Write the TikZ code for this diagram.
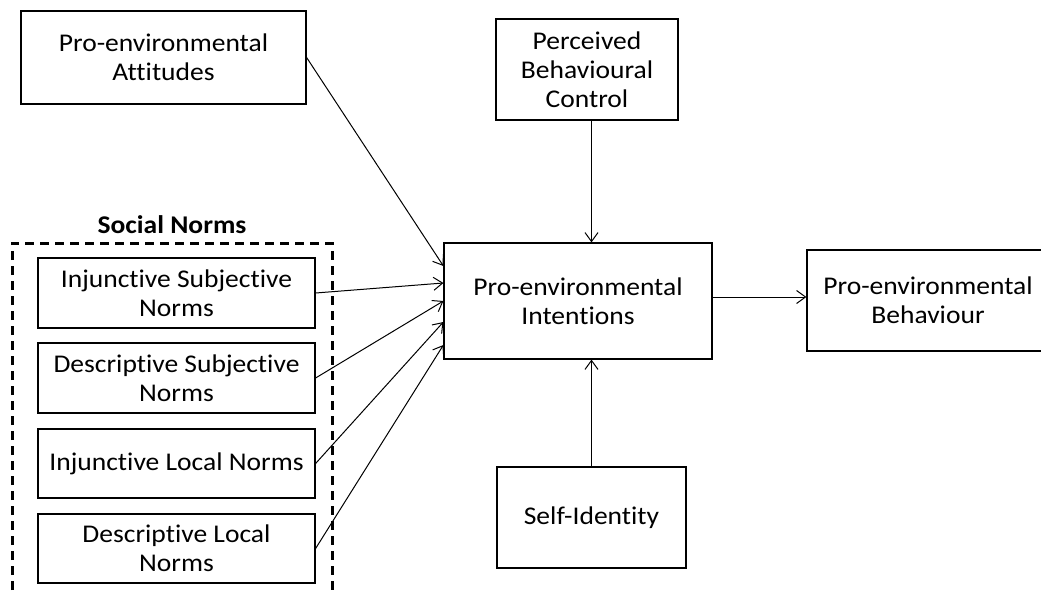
\documentclass[tikz,border=0pt]{standalone}
\usepackage{fontspec}
\setmainfont[FakeStretch=1.08,Ligatures=NoCommon]{Carlito}
\usetikzlibrary{arrows.meta,calc}
\begin{document}
\begin{tikzpicture}[x=1pt,y=-1pt,
  box/.style={draw=black,line width=1.2pt,rectangle,align=center,inner sep=0pt,
    font=\fontsize{25.5}{29}\selectfont},
  arr/.style={draw=black,line width=1pt,-{Straight Barb[length=9pt,width=13pt,line width=1pt]}},
  grp/.style={draw=black,line width=3pt,dash pattern=on 9pt off 6pt}]
\useasboundingbox (0,0) rectangle (1041,596);
% social norms group
\draw[grp] (12,620) -- (12,243) -- (332,243) -- (332,620);
\node[font=\fontsize{25.5}{29}\selectfont\bfseries] (sn) at (172,225) {Social Norms};
% nodes
\node[box,minimum width=285pt,minimum height=93pt] (att) at (163.5,57.5) {Pro-environmental\\Attitudes};
\node[box,minimum width=182pt,minimum height=101pt] (pbc) at (587,69.5) {Perceived\\Behavioural\\Control};
\node[box,minimum width=268pt,minimum height=116pt] (int) at (578,301) {Pro-environmental\\Intentions};
\node[box,minimum width=242pt,minimum height=101pt] (beh) at (928,300.5) {Pro-environmental\\Behaviour};
\node[box,minimum width=189pt,minimum height=101pt] (si) at (591.5,517.5) {Self-Identity};
\node[box,minimum width=277pt,minimum height=70pt] (isn) at (176.5,293) {Injunctive Subjective\\Norms};
\node[box,minimum width=277pt,minimum height=70pt] (dsn) at (176.5,378) {Descriptive Subjective\\Norms};
\node[box,minimum width=277pt,minimum height=69pt] (iln) at (176.5,463.5) {Injunctive Local Norms};
\node[box,minimum width=277pt,minimum height=69pt] (dln) at (176.5,548.5) {Descriptive Local\\Norms};
% connectors
\draw[arr] (att.east) -- ($(int.west)+(0,-35)$);
\draw[arr] (isn.east) -- ($(int.west)+(0,-18)$);
\draw[arr] (dsn.east) -- ($(int.west)+(0,0)$);
\draw[arr] (iln.east) -- ($(int.west)+(0,21)$);
\draw[arr] (dln.east) -- ($(int.west)+(0,44)$);
\draw[arr] (si.north |- pbc.south) -- (si.north |- int.north);
\draw[arr] (si.north) -- (si.north |- int.south);
\draw[arr] ($(int.east)+(0,-4)$) -- ($(beh.west)+(0,-3.5)$);
\end{tikzpicture}
\end{document}
